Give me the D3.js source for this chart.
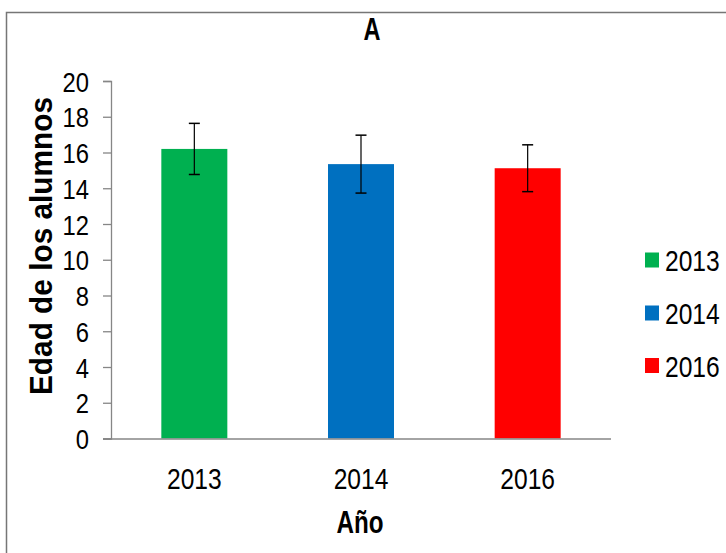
<!DOCTYPE html>
<html>
<head>
<meta charset="utf-8">
<script src="https://cdn.jsdelivr.net/npm/d3@7"></script>
<style>
  html, body { margin: 0; padding: 0; background: #fff; }
  svg { display: block; }
  text { font-family: "Liberation Sans", Arial, sans-serif; fill: #000; }
</style>
</head>
<body>
<svg id="chart" width="726" height="553"></svg>
<script>
// ---- data ----
const categories = ["2013", "2014", "2016"];
const means = [16.2, 15.35, 15.12];
const errors = [1.43, 1.62, 1.31];
const colors = ["#00B050", "#0070C0", "#FF0000"];
const yTicks = [0, 2, 4, 6, 8, 10, 12, 14, 16, 18, 20];
const title = "A";
const xTitle = "Año";
const yTitle = "Edad de los alumnos";

const svg = d3.select("#chart");

// outer border
svg.append("rect")
  .attr("x", 6.5).attr("y", 12.5)
  .attr("width", 740).attr("height", 560)
  .attr("fill", "none").attr("stroke", "#767676").attr("stroke-width", 1.5);

const x = d3.scaleBand()
  .domain(categories)
  .range([111, 611])
  .paddingInner(0.604)
  .paddingOuter(0.302);

const y = d3.scaleLinear().domain([0, 20]).range([438.5, 81]);

function squeeze(sel, sx) {
  sel.each(function() {
    const t = d3.select(this);
    const tx = +t.attr("x") || 0, ty = +t.attr("y") || 0;
    t.attr("x", 0).attr("y", 0)
     .attr("transform", `translate(${tx},${ty}) scale(${sx},1)`);
  });
}

// y axis
const yAxis = svg.append("g").attr("transform", "translate(111,0)")
  .call(d3.axisLeft(y).tickValues(yTicks).tickSize(8).tickPadding(14).tickFormat(d3.format("d")));
yAxis.select(".domain").attr("stroke", "#868686").attr("stroke-width", 1.3);
yAxis.selectAll(".tick line").attr("stroke", "#868686").attr("stroke-width", 1.3);
yAxis.selectAll(".tick text")
  .attr("font-size", 28)
  .attr("font-family", "Liberation Sans, Arial, sans-serif")
  .attr("fill", "#000")
  .attr("dy", "0.36em")
  .each(function() {
    const t = d3.select(this);
    t.attr("transform", "scale(0.85,1)").attr("x", -22 / 0.85);
  });

// bars
svg.append("g").selectAll("rect")
  .data(categories)
  .join("rect")
  .attr("x", d => x(d))
  .attr("width", x.bandwidth())
  .attr("y", (d, i) => y(means[i]))
  .attr("height", (d, i) => y(0) - y(means[i]))
  .attr("fill", (d, i) => colors[i]);

// x axis (line only)
const xAxis = svg.append("g").attr("transform", `translate(0,${y(0)})`)
  .call(d3.axisBottom(x).tickSize(0).tickPadding(0).tickSizeOuter(0));
xAxis.select(".domain").attr("stroke", "#868686").attr("stroke-width", 1.3)
  .attr("d", "M103,0.5H611");
xAxis.selectAll(".tick text").remove();

// x category labels
const xl = svg.append("g").selectAll("text")
  .data(categories)
  .join("text")
  .attr("x", d => x(d) + x.bandwidth() / 2)
  .attr("y", 489)
  .attr("text-anchor", "middle")
  .attr("font-size", 30)
  .text(d => d);
squeeze(xl, 0.82);

// error bars
const eb = svg.append("g").attr("stroke", "#000");
categories.forEach((c, i) => {
  const cx = x(c) + x.bandwidth() / 2;
  const top = y(means[i] + errors[i]);
  const bot = y(means[i] - errors[i]);
  eb.append("line").attr("x1", cx).attr("x2", cx).attr("y1", top).attr("y2", bot).attr("stroke-width", 1.2);
  eb.append("line").attr("x1", cx - 5.5).attr("x2", cx + 5.5).attr("y1", top).attr("y2", top).attr("stroke-width", 1.5);
  eb.append("line").attr("x1", cx - 5.5).attr("x2", cx + 5.5).attr("y1", bot).attr("y2", bot).attr("stroke-width", 1.5);
});

// title
svg.append("text")
  .attr("x", 372).attr("y", 40)
  .attr("text-anchor", "middle")
  .attr("font-size", 31).attr("font-weight", "bold")
  .attr("textLength", 17).attr("lengthAdjust", "spacingAndGlyphs")
  .text(title);

// x title
svg.append("text")
  .attr("x", 360).attr("y", 533)
  .attr("text-anchor", "middle")
  .attr("font-size", 31).attr("font-weight", "bold")
  .attr("textLength", 47).attr("lengthAdjust", "spacingAndGlyphs")
  .text(xTitle);

// y title
svg.append("text")
  .attr("transform", "translate(52,246) rotate(-90)")
  .attr("text-anchor", "middle")
  .attr("font-size", 31).attr("font-weight", "bold")
  .attr("textLength", 298).attr("lengthAdjust", "spacingAndGlyphs")
  .text(yTitle);

// legend
const legendY = [260, 313, 365.5];
const lg = svg.append("g");
categories.forEach((c, i) => {
  lg.append("rect")
    .attr("x", 645).attr("y", legendY[i] - 7.5)
    .attr("width", 14).attr("height", 15)
    .attr("fill", colors[i]);
});
const lt = lg.selectAll("text.leg")
  .data(categories)
  .join("text")
  .attr("class", "leg")
  .attr("x", 665)
  .attr("y", (d, i) => legendY[i] + 11)
  .attr("font-size", 30)
  .text(d => d);
squeeze(lt, 0.82);
</script>
</body>
</html>
